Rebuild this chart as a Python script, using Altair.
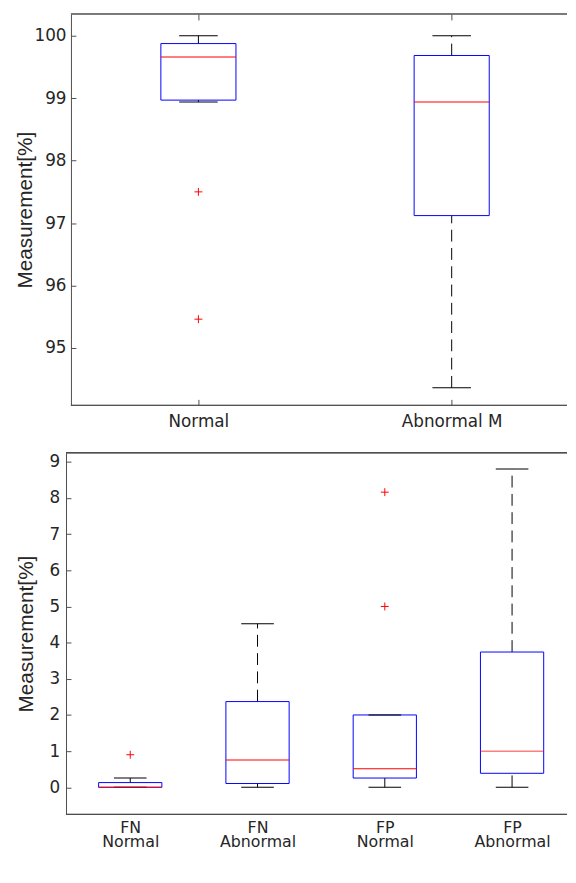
import altair as alt
import pandas as pd

# ---------------- data ----------------
top_categories = ["Normal", "Abnormal M"]
top_lower = [98.94, 94.36]
top_q1 = [98.97, 97.12]
top_median = [99.66, 98.94]
top_q3 = [99.876, 99.685]
top_upper = [100.0, 100.0]
top_outlier_group = [1, 1]          # 1-based index into top_categories
top_outlier_values = [97.50, 95.46]
top_y_ticks = [95, 96, 97, 98, 99, 100]

bottom_line1 = ["FN", "FN", "FP", "FP"]
bottom_line2 = ["Normal", "Abnormal", "Normal", "Abnormal"]
bottom_lower = [0.0, 0.0, 0.0, 0.0]
bottom_q1 = [0.0, 0.105, 0.256, 0.387]
bottom_median = [0.0, 0.757, 0.51, 1.0]
bottom_q3 = [0.13, 2.37, 2.0, 3.74]
bottom_upper = [0.256, 4.52, 2.0, 8.80]
bottom_outlier_group = [1, 3, 3]
bottom_outlier_values = [0.90, 8.16, 5.0]
bottom_y_ticks = [0, 1, 2, 3, 4, 5, 6, 7, 8, 9]

Y_TITLE = "Measurement[%]"

# ---------------- styling ----------------
AX = "#4d4d4d"
TXT = "#262626"
LABEL_FONT = "DejaVu Sans"
TITLE_FONT = "Liberation Sans"
BLUE = "#0000ff"
RED = "#ff0000"
PLUS = "M-1,0L1,0M0,-1L0,1"
DASH = [12, 6.5]


def stats_frame(lower, q1, median, q3, upper):
    return pd.DataFrame({
        "pos": list(range(1, len(q1) + 1)),
        "lower": lower, "q1": q1, "median": median, "q3": q3, "upper": upper,
    })


def panel(stats, outl, label_expr, x_dom, y_dom, y_vals, w, h, box_px,
          cap_px, x_ticks, title_x, ylab_pad, xlab_pad, xlab_size, xlab_lh,
          y_shift):
    xs = alt.Scale(domain=x_dom, nice=False, zero=False, padding=0)
    ys = alt.Scale(domain=y_dom, nice=False, zero=False, padding=0)
    n = len(stats)

    xa = dict(values=list(range(1, n + 1)), labelExpr=label_expr, ticks=False,
              tickSize=0, labelPadding=xlab_pad, labelBaseline="top",
              labelLineHeight=xlab_lh, labelFont=LABEL_FONT,
              labelFontSize=xlab_size, labelColor=TXT, domain=False,
              title=None, labelOverlap=False, labelFlush=False, grid=x_ticks)
    if x_ticks:
        xa.update(gridDash=[6, h - 12, 6, 3000], gridColor=AX,
                  gridOpacity=1, gridWidth=1)
    x_axis = alt.Axis(**xa)
    ydash = [5, 3000] if y_shift == 0 else [0, y_shift, 5, 3000]
    y_axis = alt.Axis(values=y_vals, format="d", ticks=False, tickSize=0,
                      offset=-y_shift,
                      labelPadding=ylab_pad, labelFont=LABEL_FONT,
                      labelFontSize=17, labelColor=TXT, domainColor=AX,
                      domainWidth=1, grid=True, gridDash=ydash,
                      gridColor=AX, gridOpacity=1, gridWidth=1,
                      title=Y_TITLE, titleFont=TITLE_FONT, titleFontSize=21,
                      titleFontWeight="normal", titleColor=TXT,
                      titleAngle=270, titleBaseline="alphabetic",
                      titleAlign="center", titleX=title_x, titleY=h / 2,
                      labelOverlap=False)

    def X(f):
        return alt.X(f, type="quantitative", scale=xs, axis=x_axis)

    def Y(f):
        return alt.Y(f, type="quantitative", scale=ys, axis=y_axis)

    base = alt.Chart(stats)
    # frame lines along the top and bottom of the plot area
    frame_top = base.mark_rule(color=AX, strokeWidth=1).encode(
        x=alt.value(y_shift), x2=alt.value(w), y=alt.value(0))
    frame_bottom = base.mark_rule(color=AX, strokeWidth=1).encode(
        x=alt.value(y_shift), x2=alt.value(w), y=alt.value(h))
    whisk_up = base.mark_rule(color="black", strokeWidth=1,
                              strokeDash=DASH).encode(
        x=X("pos"), y=Y("q3"), y2="upper:Q")
    whisk_lo = base.mark_rule(color="black", strokeWidth=1,
                              strokeDash=DASH).encode(
        x=X("pos"), y=Y("lower"), y2="q1:Q")
    boxes = base.mark_bar(size=box_px, fillOpacity=0, stroke=BLUE,
                          strokeWidth=1).encode(
        x=X("pos"), y=Y("q1"), y2="q3:Q")
    cap_up = base.mark_tick(orient="horizontal", size=cap_px, thickness=1,
                            color="black", opacity=1).encode(
        x=X("pos"), y=Y("upper"))
    cap_lo = base.mark_tick(orient="horizontal", size=cap_px, thickness=1,
                            color="black", opacity=1).encode(
        x=X("pos"), y=Y("lower"))
    med = base.mark_tick(orient="horizontal", size=box_px, thickness=1,
                         color=RED, opacity=1).encode(
        x=X("pos"), y=Y("median"))
    pts = alt.Chart(outl).mark_point(shape=PLUS, size=64, filled=False,
                                     color=RED, strokeWidth=1,
                                     opacity=1).encode(
        x=X("pos"), y=Y("value"))
    return alt.layer(frame_top, frame_bottom, whisk_up, whisk_lo, boxes,
                     cap_up, cap_lo, med, pts).properties(width=w, height=h)


top_stats = stats_frame(top_lower, top_q1, top_median, top_q3, top_upper)
top_out = pd.DataFrame({"pos": top_outlier_group, "value": top_outlier_values})
top_expr = "[" + ",".join("'%s'" % c for c in top_categories) + "][datum.value - 1]"

bot_stats = stats_frame(bottom_lower, bottom_q1, bottom_median, bottom_q3,
                        bottom_upper)
bot_out = pd.DataFrame({"pos": bottom_outlier_group,
                        "value": bottom_outlier_values})
bot_expr = "[" + ",".join("['%s','%s']" % (a, b)
                          for a, b in zip(bottom_line1, bottom_line2)) + \
    "][datum.value - 1]"

W = 507
top = panel(top_stats, top_out, top_expr, [0.4772, 0.4772 + W / 256.3],
            [94.08, 100.35], top_y_ticks, W, 396, 76, 39, True, -40.3, 5, 8,
            17, 15, 5)
bottom = panel(bot_stats, bot_out, bot_expr, [0.4953, 0.4953 + W / 128.8],
               [-0.75, 9.25], bottom_y_ticks, W, 366, 64, 33, False, -34.4,
               6.5, 5, 16, 14.5, 0)

chart = alt.vconcat(top, bottom, spacing=23).properties(
    padding={"left": 5.7, "top": 0, "right": 0, "bottom": 0},
    background="white",
).configure_view(stroke=None)

chart.save("out.html", embed_options={"renderer": "svg", "actions": False})
